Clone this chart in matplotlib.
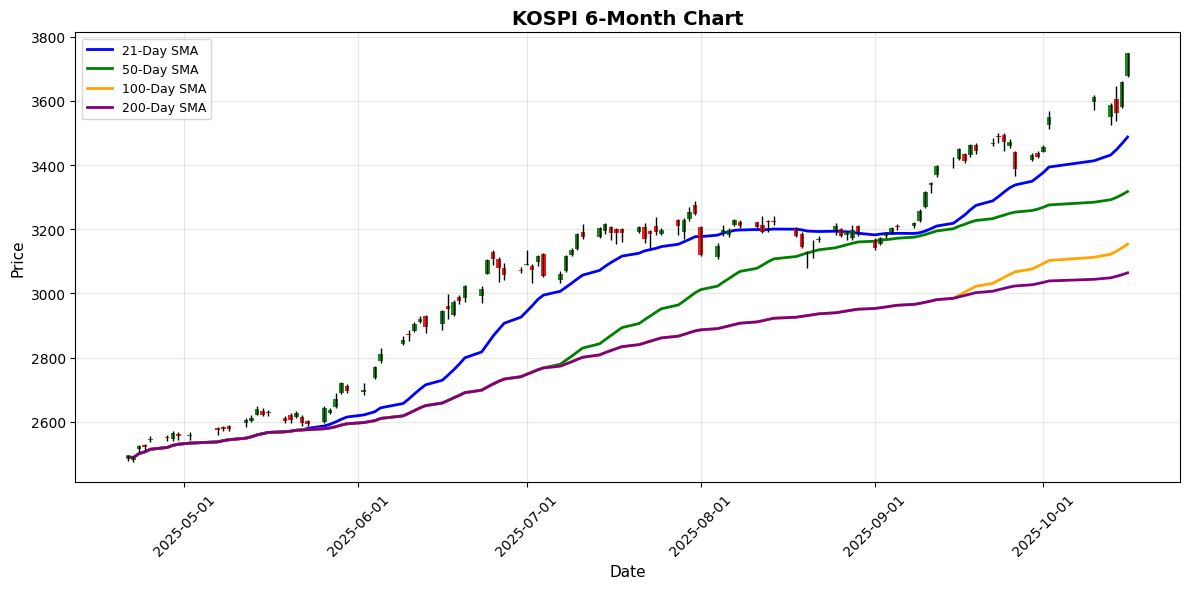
import numpy as np
import pandas as pd
import matplotlib
matplotlib.use("Agg")
import matplotlib.pyplot as plt
import matplotlib.dates as mdates

# Trading days (KOSPI, Apr 21 - Oct 16 2025)
dates = [
    "2025-04-21", "2025-04-22", "2025-04-23", "2025-04-24", "2025-04-25",
    "2025-04-28", "2025-04-29", "2025-04-30", "2025-05-02", "2025-05-07",
    "2025-05-08", "2025-05-09", "2025-05-12", "2025-05-13", "2025-05-14",
    "2025-05-15", "2025-05-16", "2025-05-19", "2025-05-20", "2025-05-21",
    "2025-05-22", "2025-05-23", "2025-05-26", "2025-05-27", "2025-05-28",
    "2025-05-29", "2025-05-30", "2025-06-02", "2025-06-04", "2025-06-05",
    "2025-06-09", "2025-06-10", "2025-06-11", "2025-06-12", "2025-06-13",
    "2025-06-16", "2025-06-17", "2025-06-18", "2025-06-19", "2025-06-20",
    "2025-06-23", "2025-06-24", "2025-06-25", "2025-06-26", "2025-06-27",
    "2025-06-30", "2025-07-01", "2025-07-02", "2025-07-03", "2025-07-04",
    "2025-07-07", "2025-07-08", "2025-07-09", "2025-07-10", "2025-07-11",
    "2025-07-14", "2025-07-15", "2025-07-16", "2025-07-17", "2025-07-18",
    "2025-07-21", "2025-07-22", "2025-07-23", "2025-07-24", "2025-07-25",
    "2025-07-28", "2025-07-29", "2025-07-30", "2025-07-31", "2025-08-01",
    "2025-08-04", "2025-08-05", "2025-08-06", "2025-08-07", "2025-08-08",
    "2025-08-11", "2025-08-12", "2025-08-13", "2025-08-14", "2025-08-18",
    "2025-08-19", "2025-08-20", "2025-08-21", "2025-08-22", "2025-08-25",
    "2025-08-26", "2025-08-27", "2025-08-28", "2025-08-29", "2025-09-01",
    "2025-09-02", "2025-09-03", "2025-09-04", "2025-09-05", "2025-09-08",
    "2025-09-09", "2025-09-10", "2025-09-11", "2025-09-12", "2025-09-15",
    "2025-09-16", "2025-09-17", "2025-09-18", "2025-09-19", "2025-09-22",
    "2025-09-23", "2025-09-24", "2025-09-25", "2025-09-26", "2025-09-29",
    "2025-09-30", "2025-10-01", "2025-10-02", "2025-10-10", "2025-10-13",
    "2025-10-14", "2025-10-15", "2025-10-16",
]

opens = [
    2486, 2480, 2515, 2527, 2543, 2551, 2547, 2562, 2555, 2580,
    2583, 2587, 2595, 2603, 2622, 2634, 2631, 2613, 2621, 2615,
    2616, 2603, 2598, 2628, 2646, 2689, 2712, 2692, 2737, 2788,
    2842, 2874, 2883, 2911, 2930, 2905, 2961, 2933, 2989, 2985,
    2992, 3061, 3128, 3107, 3079, 3073, 3089, 3086, 3099, 3123,
    3043, 3071, 3121, 3137, 3190, 3176, 3194, 3208, 3200, 3200,
    3190, 3208, 3193, 3211, 3185, 3229, 3191, 3232, 3276, 3207,
    3114, 3188, 3182, 3214, 3224, 3222, 3214, 3226, 3226, 3200,
    3186, 3126, 3150, 3167, 3197, 3200, 3181, 3173, 3210, 3167,
    3155, 3178, 3191, 3209, 3209, 3225, 3268, 3338, 3370, 3411,
    3420, 3434, 3432, 3462, 3465, 3492, 3494, 3458, 3440, 3415,
    3438, 3442, 3526, 3598, 3550, 3605, 3580, 3677,
]

highs = [
    2496, 2492, 2527, 2531, 2554, 2559, 2572, 2567, 2567, 2583,
    2588, 2590, 2610, 2620, 2648, 2642, 2636, 2618, 2626, 2634,
    2620, 2606, 2648, 2643, 2690, 2725, 2717, 2720, 2775, 2830,
    2866, 2886, 2912, 2930, 2932, 2949, 2998, 2978, 2996, 3025,
    3022, 3108, 3135, 3113, 3096, 3083, 3136, 3092, 3120, 3126,
    3070, 3120, 3141, 3188, 3217, 3206, 3219, 3211, 3203, 3204,
    3211, 3219, 3198, 3237, 3205, 3232, 3234, 3269, 3289, 3211,
    3157, 3212, 3204, 3231, 3229, 3224, 3240, 3229, 3242, 3208,
    3190, 3131, 3165, 3179, 3219, 3205, 3196, 3213, 3214, 3172,
    3177, 3190, 3208, 3216, 3224, 3262, 3320, 3346, 3400, 3425,
    3453, 3437, 3465, 3468, 3484, 3499, 3499, 3481, 3444, 3437,
    3444, 3461, 3570, 3619, 3593, 3648, 3661, 3750,
]

lows = [
    2478, 2475, 2507, 2513, 2537, 2541, 2540, 2543, 2543, 2560,
    2572, 2571, 2584, 2600, 2620, 2617, 2619, 2596, 2597, 2611,
    2588, 2588, 2596, 2625, 2643, 2685, 2688, 2684, 2733, 2784,
    2839, 2851, 2880, 2908, 2876, 2887, 2921, 2930, 2968, 2974,
    2970, 3059, 3088, 3036, 3042, 3063, 3087, 3032, 3084, 3050,
    3032, 3068, 3115, 3134, 3169, 3172, 3185, 3167, 3154, 3160,
    3188, 3157, 3143, 3182, 3182, 3183, 3170, 3227, 3245, 3117,
    3108, 3178, 3176, 3211, 3205, 3203, 3188, 3191, 3214, 3175,
    3141, 3079, 3110, 3161, 3183, 3175, 3167, 3166, 3178, 3136,
    3151, 3172, 3186, 3198, 3205, 3221, 3266, 3312, 3362, 3390,
    3416, 3406, 3425, 3435, 3458, 3468, 3444, 3453, 3367, 3413,
    3421, 3440, 3512, 3572, 3524, 3538, 3577, 3674,
]

closes = [
    2490, 2487, 2525, 2521, 2547, 2548, 2565, 2556, 2559, 2574,
    2578, 2576, 2606, 2610, 2641, 2621, 2627, 2603, 2605, 2627,
    2596, 2592, 2644, 2638, 2671, 2721, 2697, 2700, 2771, 2811,
    2855, 2870, 2906, 2920, 2895, 2946, 2951, 2973, 2976, 3022,
    3013, 3104, 3107, 3080, 3056, 3071, 3090, 3074, 3116, 3053,
    3059, 3116, 3135, 3185, 3176, 3203, 3216, 3189, 3189, 3188,
    3207, 3168, 3185, 3190, 3197, 3209, 3230, 3253, 3249, 3120,
    3148, 3199, 3198, 3228, 3209, 3206, 3192, 3223, 3224, 3178,
    3145, 3128, 3152, 3171, 3210, 3178, 3192, 3197, 3190, 3142,
    3172, 3185, 3203, 3206, 3220, 3258, 3317, 3344, 3396, 3408,
    3450, 3414, 3462, 3445, 3469, 3487, 3471, 3473, 3388, 3431,
    3424, 3456, 3549, 3611, 3586, 3562, 3658, 3748,
]

sma_windows = [21, 50, 100, 200]
sma_colors = ["blue", "green", "orange", "purple"]


def main() -> None:
    df = pd.DataFrame({
        "Open": opens, "High": highs, "Low": lows, "Close": closes,
    }, index=pd.to_datetime(dates))

    fig, ax = plt.subplots(figsize=(12, 6))

    # Moving averages
    for window, color in zip(sma_windows, sma_colors):
        sma = df["Close"].rolling(window=window, min_periods=1).mean()
        ax.plot(df.index, sma, color=color, linewidth=2,
                label=f"{window}-Day SMA", zorder=2)

    # Candlesticks
    up = df["Close"] >= df["Open"]
    body_colors = np.where(up, "green", "red")
    body_bottom = np.minimum(df["Open"], df["Close"])
    body_height = np.maximum(np.abs(df["Close"] - df["Open"]), 1.5)
    ax.bar(df.index, body_height, bottom=body_bottom, width=0.8,
           color=body_colors, alpha=0.9, zorder=3)
    ax.vlines(df.index, df["Low"], df["High"], color="black",
              linewidth=1, zorder=4)

    ax.set_title("KOSPI 6-Month Chart", fontsize=14, fontweight="bold")
    ax.set_xlabel("Date", fontsize=11)
    ax.set_ylabel("Price", fontsize=11)
    ax.legend(loc="upper left", fontsize=9)
    ax.grid(True, alpha=0.3)

    ax.xaxis.set_major_locator(mdates.MonthLocator())
    ax.xaxis.set_major_formatter(mdates.DateFormatter("%Y-%m-%d"))
    plt.setp(ax.get_xticklabels(), rotation=45)

    plt.tight_layout()
    plt.savefig("out.png", dpi=100, bbox_inches="tight")
    plt.close()


if __name__ == "__main__":
    main()
